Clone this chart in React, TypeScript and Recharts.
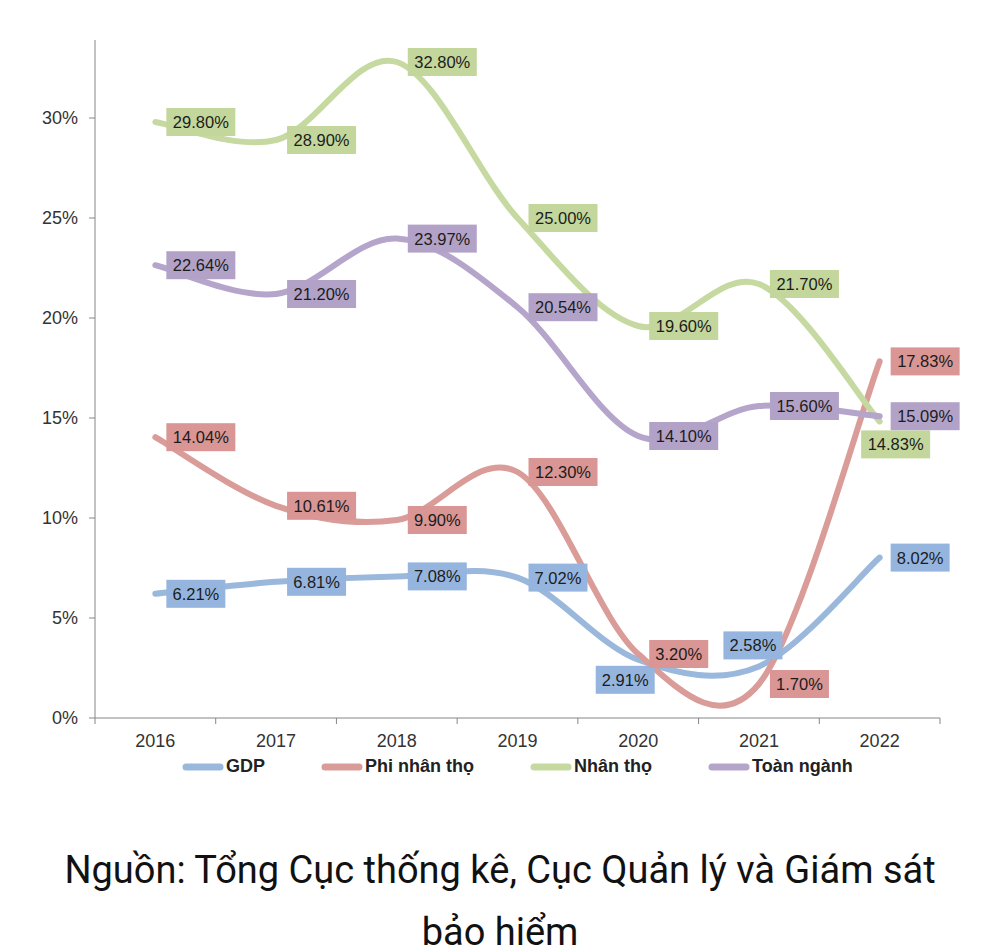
import React from "react"
import { LineChart, Line, XAxis, YAxis, Legend, LabelList } from "recharts"

const years = ["2016", "2017", "2018", "2019", "2020", "2021", "2022"]
const gdp = [6.21, 6.81, 7.08, 7.02, 2.91, 2.58, 8.02]
const phiNhanTho = [14.04, 10.61, 9.9, 12.3, 3.2, 1.7, 17.83]
const nhanTho = [29.8, 28.9, 32.8, 25.0, 19.6, 21.7, 14.83]
const toanNganh = [22.64, 21.2, 23.97, 20.54, 14.1, 15.6, 15.09]
const yTicks = [0, 5, 10, 15, 20, 25, 30]

const data = years.map((year, i) => ({
  year,
  gdp: gdp[i],
  phi: phiNhanTho[i],
  nhan: nhanTho[i],
  toan: toanNganh[i],
}))

const series = [
  { key: "gdp", name: "GDP", line: "#9ab7dc", box: "#95b5df" },
  { key: "phi", name: "Phi nhân thọ", line: "#d99c99", box: "#d99694" },
  { key: "nhan", name: "Nhân thọ", line: "#c6d9a0", box: "#c3d69b" },
  { key: "toan", name: "Toàn ngành", line: "#b5a5cb", box: "#b3a2c7" },
]

// labels that Excel put somewhere other than "right": [dx, dy] of the box centre
const labelNudge: Record<string, [number, number]> = {
  "gdp-4": [-13, 20],
  "gdp-5": [-6, -21],
  "nhan-6": [16, 23],
}

const HALF_BAND = (940 - 95) / 7 / 2
const FONT = "'Liberation Sans', Arial, sans-serif"

// Excel-like smoothed line (Catmull-Rom as cubic beziers)
const smoothCurve: any = (context: any) => {
  let pts: number[][] = []
  return {
    areaStart() {},
    areaEnd() {},
    lineStart() {
      pts = []
    },
    point(x: number, y: number) {
      pts.push([+x, +y])
    },
    lineEnd() {
      if (!pts.length) return
      context.moveTo(pts[0][0], pts[0][1])
      for (let i = 0; i < pts.length - 1; i++) {
        const p0 = pts[i - 1] || pts[i]
        const p1 = pts[i]
        const p2 = pts[i + 1]
        const p3 = pts[i + 2] || p2
        context.bezierCurveTo(
          p1[0] + (p2[0] - p0[0]) / 6,
          p1[1] + (p2[1] - p0[1]) / 6,
          p2[0] - (p3[0] - p1[0]) / 6,
          p2[1] - (p3[1] - p1[1]) / 6,
          p2[0],
          p2[1]
        )
      }
    },
  }
}

const makeLabel = (key: string, fill: string) => (props: any) => {
  const { x, y, value, index } = props
  if (x == null || y == null) return null
  const text = value.toFixed(2) + "%"
  const w = text.length * 10 + 9
  const h = 28
  let cx = x + 11 + w / 2
  let cy = y
  const nudge = labelNudge[`${key}-${index}`]
  if (nudge) {
    cx = x + nudge[0]
    cy = y + nudge[1]
  }
  return (
    <g>
      <rect x={cx - w / 2} y={cy - h / 2} width={w} height={h} fill={fill} />
      <text
        x={cx}
        y={cy + 6}
        textAnchor="middle"
        fontFamily={FONT}
        fontSize={16.5}
        fill="#1c1c1c"
      >
        {text}
      </text>
    </g>
  )
}

const XTick = (props: any) => {
  const { x, y, payload, index } = props
  return (
    <g>
      <line x1={x - HALF_BAND} x2={x - HALF_BAND} y1={y} y2={y + 6} stroke="#868686" />
      {index === years.length - 1 && (
        <line x1={x + HALF_BAND} x2={x + HALF_BAND} y1={y} y2={y + 6} stroke="#868686" />
      )}
      <text x={x} y={y + 29} textAnchor="middle" fontFamily={FONT} fontSize={18} fill="#333">
        {payload.value}
      </text>
    </g>
  )
}

const LegendContent = () => (
  <div style={{ display: "flex", paddingLeft: 182, paddingTop: 8, gap: 56 }}>
    {series.map((s) => (
      <div key={s.key} style={{ display: "flex", alignItems: "center" }}>
        <svg width={42} height={10}>
          <line x1={4} x2={38} y1={5} y2={5} stroke={s.line} strokeWidth={7} strokeLinecap="round" />
        </svg>
        <span style={{ fontFamily: FONT, fontSize: 18, fontWeight: "bold", color: "#222", marginLeft: 2 }}>
          {s.name}
        </span>
      </div>
    ))}
  </div>
)

export default function App() {
  return (
    <div style={{ position: "absolute", left: 0, top: 0, width: 1000, height: 951, overflow: "hidden", background: "#fff" }}>
      <LineChart width={1000} height={800} data={data} margin={{ top: 40, right: 60, left: 0, bottom: 22 }}>
        <XAxis
          dataKey="year"
          padding={{ left: HALF_BAND, right: HALF_BAND }}
          stroke="#868686"
          tickLine={false}
          tickSize={0}
          tickMargin={0}
          height={30}
          tick={<XTick />}
          interval={0}
        />
        <YAxis
          width={95}
          domain={[0, 33.9]}
          ticks={yTicks}
          tickFormatter={(v: number) => v + "%"}
          stroke="#868686"
          tickSize={6}
          tickMargin={11}
          tick={{ fontFamily: FONT, fontSize: 18, fill: "#333" }}
        />
        <Legend height={30} verticalAlign="bottom" content={<LegendContent />} />
        {series.map((s) => (
          <Line
            key={s.key}
            dataKey={s.key}
            name={s.name}
            type={smoothCurve}
            stroke={s.line}
            strokeWidth={6}
            strokeLinecap="round"
            dot={false}
            activeDot={false}
            isAnimationActive={false}
          >
            <LabelList dataKey={s.key} content={makeLabel(s.key, s.box)} />
          </Line>
        ))}
      </LineChart>
      <div
        style={{
          marginTop: 39,
          fontFamily: "Roboto, sans-serif",
          fontSize: 38,
          lineHeight: "62px",
          color: "#111",
          textAlign: "center",
          whiteSpace: "nowrap",
        }}
      >
        Nguồn: Tổng Cục thống kê, Cục Quản lý và Giám sát
        <br />
        bảo hiểm
      </div>
    </div>
  )
}
